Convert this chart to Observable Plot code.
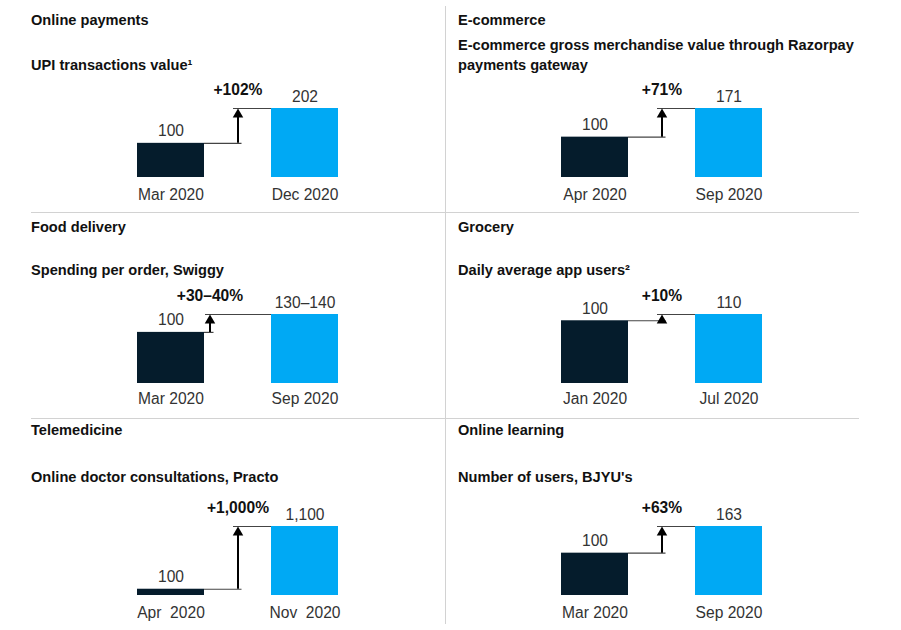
<!DOCTYPE html>
<html><head><meta charset="utf-8">
<script src="https://cdn.jsdelivr.net/npm/d3@7"></script>
<script src="https://cdn.jsdelivr.net/npm/@observablehq/plot@0.6"></script>
<style>
body{margin:0;background:#fff;font-family:"Liberation Sans",Arial,sans-serif;}
#root{position:relative;width:901px;height:630px;overflow:hidden;background:#fff;}
.title{position:absolute;font-weight:bold;font-size:14.6px;line-height:20px;color:#111;white-space:nowrap;}
.sub{position:absolute;font-weight:bold;font-size:14.6px;line-height:20px;color:#111;white-space:pre;}
.plot{position:absolute;}
.rule{position:absolute;background:#d2d2d2;}
</style></head>
<body><div id="root"></div>
<script>
// ---- data ----
const sections = ["Online payments", "E-commerce", "Food delivery", "Grocery", "Telemedicine", "Online learning"];
const subtitles = [
  "UPI transactions value\u00b9",
  "E-commerce gross merchandise value through Razorpay\npayments gateway",
  "Spending per order, Swiggy",
  "Daily average app users\u00b2",
  "Online doctor consultations, Practo",
  "Number of users, BJYU's"
];
const startDates = ["Mar 2020", "Apr 2020", "Mar 2020", "Jan 2020", "Apr\u00a0 2020", "Mar 2020"];
const endDates = ["Dec 2020", "Sep 2020", "Sep 2020", "Jul 2020", "Nov\u00a0 2020", "Sep 2020"];
const startValues = [100, 100, 100, 100, 100, 100];
const endValues = [202, 171, 135, 110, 1100, 163];
const startLabels = ["100", "100", "100", "100", "100", "100"];
const endLabels = ["202", "171", "130\u2013140", "110", "1,100", "163"];
const changeLabels = ["+102%", "+71%", "+30\u201340%", "+10%", "+1,000%", "+63%"];

// ---- layout / style ----
const dark = "#051C2C", blue = "#00A9F4";
const textLeft = [31, 458];
const plotMarginLeft = [106, 103];
const rowTitleBase = [25, 232, 435];
const rowSubBase = [70, 275, 482];
const rowBarTop = [108, 314, 526];
const rowTickPad = [11, 9, 11];
const arrowShift = [0, 0, -28, 0, 0, 0];
const plotW = 414, innerW = 201, barH = 69, mTop = 30, mBottom = 28;
const bw = innerW / 3;
const baseOff = 15.1, belowBase = 4.9;

const root = document.getElementById("root");
function addRule(l, t, w, h) {
  const d = document.createElement("div");
  d.className = "rule";
  Object.assign(d.style, {left: l + "px", top: t + "px", width: w + "px", height: h + "px"});
  root.appendChild(d);
}
addRule(445, 6, 1, 618);
addRule(31, 212, 828, 1);
addRule(31, 418, 828, 1);

for (let i = 0; i < 6; i++) {
  const col = i % 2, row = Math.floor(i / 2);
  const t = document.createElement("div");
  t.className = "title";
  t.textContent = sections[i];
  t.style.left = textLeft[col] + "px";
  t.style.top = (rowTitleBase[row] - baseOff) + "px";
  root.appendChild(t);

  const s = document.createElement("div");
  s.className = "sub";
  s.textContent = subtitles[i];
  s.style.left = textLeft[col] + "px";
  s.style.bottom = (630 - (rowSubBase[row] + belowBase)) + "px";
  root.appendChild(s);

  const cats = [startDates[i], "change", endDates[i]];
  const bars = [
    {date: startDates[i], value: startValues[i], label: startLabels[i], kind: "start"},
    {date: endDates[i], value: endValues[i], label: endLabels[i], kind: "end"}
  ];
  const step = [{x: "change", from: startValues[i], to: endValues[i], label: changeLabels[i]}];
  const sh = arrowShift[i];
  const ml = plotMarginLeft[col];

  const chart = Plot.plot({
    width: plotW,
    height: mTop + barH + mBottom,
    marginTop: mTop,
    marginBottom: mBottom,
    marginLeft: ml,
    marginRight: plotW - ml - innerW,
    style: {fontFamily: "'Liberation Sans', Arial, sans-serif", fontSize: "15.6px", color: "#333", background: "transparent"},
    x: {type: "band", domain: cats, padding: 0, round: false, ticks: [startDates[i], endDates[i]], tickSize: 0, tickPadding: rowTickPad[row], label: null},
    y: {domain: [0, Math.max(startValues[i], endValues[i])], axis: null},
    color: {domain: ["start", "end"], range: [dark, blue]},
    marks: [
      Plot.barY(bars, {x: "date", y: "value", fill: "kind"}),
      Plot.ruleY(step, {x1: "x", x2: "x", y: "from", insetRight: bw / 2 - 4 - sh, stroke: "#444", strokeWidth: 1.2}),
      Plot.ruleY(step, {x1: "x", x2: "x", y: "to", insetLeft: bw / 2 - 4.5 + sh, stroke: "#444", strokeWidth: 1.2}),
      Plot.ruleX(step, {x: "x", y1: "to", y2: "from", insetTop: 7, dx: sh, stroke: "#000", strokeWidth: 2}),
      Plot.dot(step, {x: "x", y: "to", symbol: "triangle", r: 3.9, fill: "#000", stroke: "none", dy: 6, dx: sh}),
      Plot.text(bars, {x: "date", y: "value", text: "label", dy: -7, lineAnchor: "bottom", fill: "#333"}),
      Plot.text(step, {x: "x", y: "to", text: "label", dy: -14, dx: sh, lineAnchor: "bottom", fontWeight: "bold", fill: "#111"})
    ]
  });
  chart.classList.add("plot");
  chart.style.left = textLeft[col] + "px";
  chart.style.top = (rowBarTop[row] - mTop) + "px";
  root.appendChild(chart);
}
</script>
</body></html>
